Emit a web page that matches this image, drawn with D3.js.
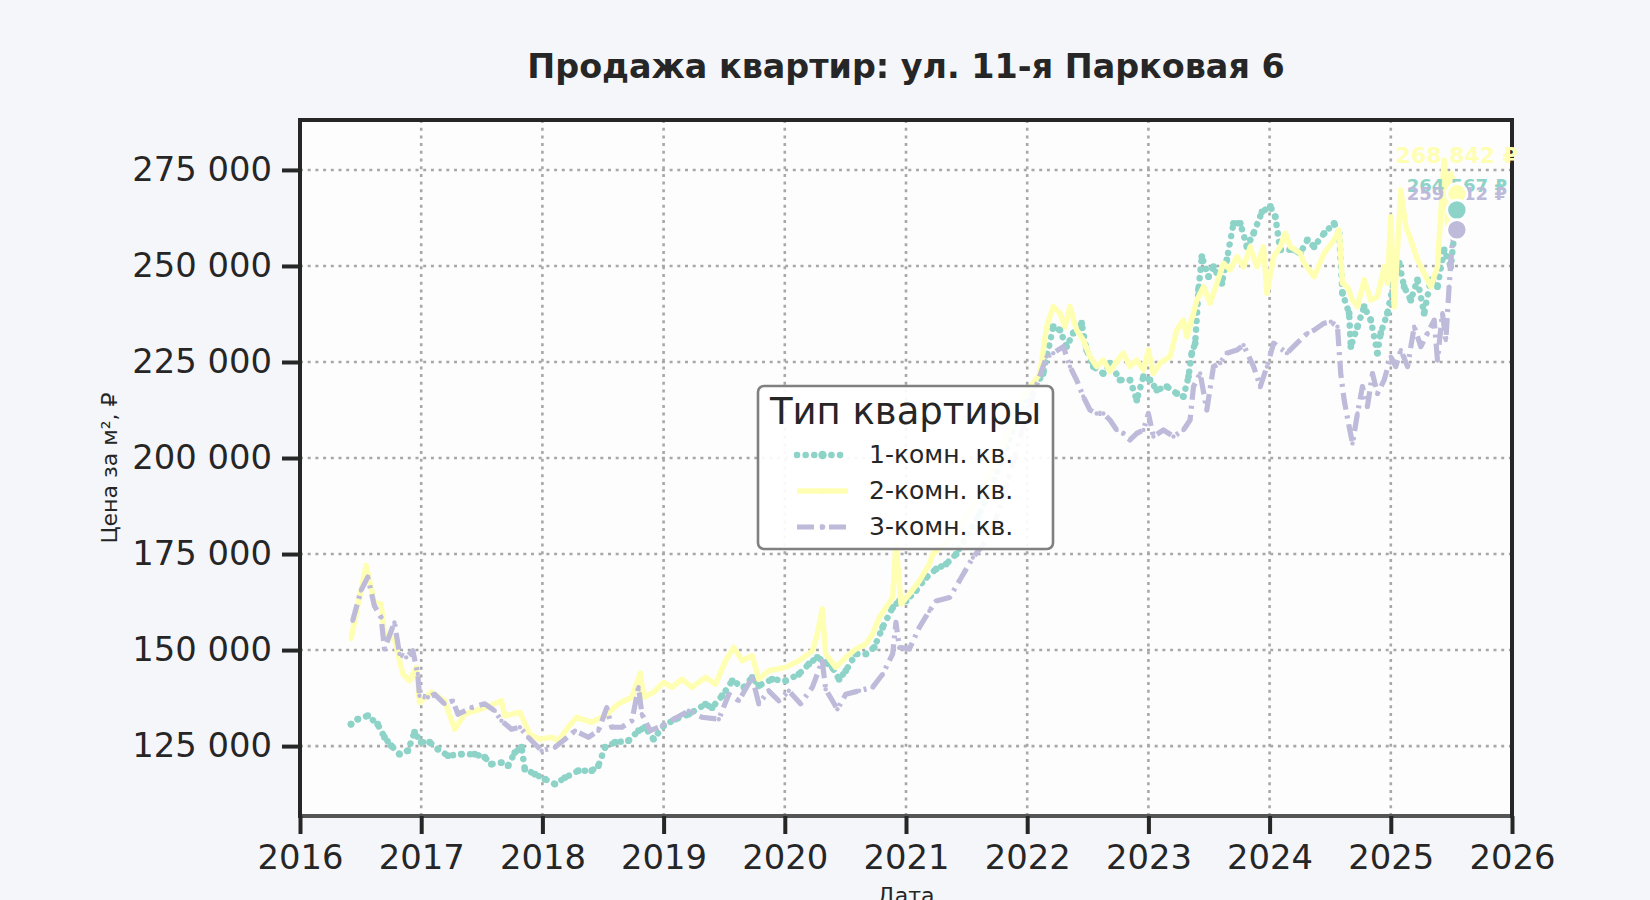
<!DOCTYPE html>
<html>
<head>
<meta charset="utf-8">
<script src="https://cdn.jsdelivr.net/npm/d3@7"></script>
<style>
  body { margin: 0; background: #f5f6fa; }
  svg { display: block; font-family: "DejaVu Sans", sans-serif; }
</style>
</head>
<body>
<svg id="chart" width="1650" height="900"></svg>
<script>
// подписи и оси
const chartTitle = "Продажа квартир: ул. 11-я Парковая 6";
const seriesNames = ["1-комн. кв.", "2-комн. кв.", "3-комн. кв."];
const lastPrice = [264567, 268842, 259412];
const xTicks = [2016, 2017, 2018, 2019, 2020, 2021, 2022, 2023, 2024, 2025, 2026];
const yTicks = [125000, 150000, 175000, 200000, 225000, 250000, 275000];

// даты в долях года, цены в тыс. ₽ за м²
// 1-комн.
const t1 = [
  2016.421,2016.476,2016.559,2016.641,2016.697,2016.752,2016.821,2016.890,2016.945,
  2017.0,2017.069,2017.138,2017.221,2017.331,2017.441,2017.524,2017.579,2017.662,2017.717,2017.772,2017.828,2017.855,2017.938,
  2018.021,2018.103,2018.186,2018.297,2018.407,2018.462,2018.517,2018.600,2018.710,2018.793,2018.848,2018.917,
  2019.0,2019.097,2019.207,2019.345,2019.400,2019.483,2019.566,2019.662,2019.731,2019.785,2019.895,
  2020.006,2020.116,2020.199,2020.268,2020.337,2020.392,2020.448,2020.503,2020.586,2020.669,2020.738,2020.807,2020.890,2020.945,
  2021.0,2021.083,2021.166,2021.249,2021.331,2021.414,2021.6,2021.8,2021.95,
  2022.132,2022.215,2022.270,2022.325,2022.380,2022.449,2022.490,2022.545,2022.628,2022.683,2022.766,2022.848,2022.904,2022.959,
  2023.014,2023.069,2023.152,2023.234,2023.289,2023.331,2023.358,2023.386,2023.413,2023.441,2023.496,2023.537,2023.606,2023.647,2023.702,2023.758,2023.813,2023.868,2023.937,
  2024.006,2024.047,2024.088,2024.198,2024.253,2024.312,2024.367,2024.450,2024.532,2024.574,2024.601,2024.656,2024.670,2024.725,2024.780,2024.835,2024.890,2024.917,2024.972,
  2025.028,2025.069,2025.110,2025.165,2025.220,2025.275,2025.330,2025.385,2025.440,2025.495,2025.545
];
const v1 = [
  130.7,132,132.9,130.7,127.3,125.1,122.9,123.8,128.6,
  126,126,124.2,122.5,122.9,122.9,122.1,120.3,120.7,119.9,123.3,124.7,119,117.7,
  116.4,115.1,116.8,118.6,118.6,119.9,124.7,126,126.4,129,129.9,126.8,
  130.3,132,133.3,135.9,135,138.1,142,140.3,142.9,140.7,142.4,
  142,143.7,146.4,148.1,146.8,145.5,142.4,144.6,149,149,150.7,155.9,161.1,162.8,
  162.8,165.5,168.9,171.1,172.4,175,185,200,213,
  222,234.2,233.3,229,232.5,235.1,228.1,223.8,222,224.7,220.3,220.3,215.1,221.2,
  220.3,217.7,218.6,216.8,216,221.2,227.3,229.9,243.8,252.4,247.2,249.8,245.5,251.6,261.1,261.1,255,258.5,264.1,
  265.5,262.8,254.2,254.2,253.3,256.8,255,258.5,261.1,258.5,242.9,237.7,229,234.2,239.4,235.9,227.3,232.5,237.7,
  246.4,250.7,244.6,241.1,246.4,237.7,246.4,244.6,254.2,249.8,264.567
];

// 2-комн.
const t2 = [
  2016.421,2016.545,2016.614,2016.669,2016.697,2016.779,2016.848,2016.903,2016.959,2016.986,
  2017.083,2017.193,2017.276,2017.359,2017.524,2017.662,2017.690,2017.814,2017.897,2017.979,
  2018.076,2018.131,2018.214,2018.283,2018.407,2018.517,2018.628,2018.738,2018.807,2018.834,2018.917,
  2019.0,2019.069,2019.152,2019.234,2019.345,2019.428,2019.510,2019.579,2019.648,2019.731,2019.785,2019.867,
  2020.006,2020.116,2020.227,2020.268,2020.309,2020.337,2020.420,2020.503,2020.586,2020.669,2020.724,2020.779,2020.834,2020.890,2020.917,2020.959,
  2021.028,2021.110,2021.193,2021.221,2021.4,2021.6,2021.8,2021.95,
  2022.105,2022.160,2022.215,2022.270,2022.311,2022.353,2022.408,2022.463,2022.518,2022.573,2022.628,2022.683,2022.738,2022.793,2022.848,2022.904,2022.959,
  2023.0,2023.041,2023.096,2023.179,2023.234,2023.289,2023.317,2023.372,2023.399,2023.455,2023.510,2023.565,2023.620,2023.675,2023.730,2023.785,2023.840,2023.895,2023.950,2023.978,
  2024.033,2024.088,2024.129,2024.171,2024.253,2024.285,2024.367,2024.450,2024.532,2024.574,2024.601,2024.642,2024.684,2024.725,2024.780,2024.835,2024.890,2024.945,2024.972,
  2025.0,2025.028,2025.083,2025.124,2025.165,2025.220,2025.275,2025.330,2025.385,2025.440,2025.468,2025.495,2025.545
];
const v2 = [
  152.9,172,162.4,162,154,152.9,143.8,142,145.5,136.4,
  139,136.8,129.4,133.3,135,136.8,132.9,133.8,128,126.8,
  127.3,126.4,130,132.5,131.2,132.9,136,137.7,144,137.7,139,
  141.6,140.3,142.4,140.3,142.9,141.1,147.2,150.7,147.2,148.5,142.4,144.6,
  145.5,147.2,149.8,154.2,160.7,149,145.5,148.1,150.3,151.6,154.2,158.5,161.1,163.7,178,162,
  164.6,168,172.4,175,180,190,203,215,
  222,234.2,239.4,237.7,234.2,239.4,233.3,230.7,226.4,223.8,225.5,222.5,225.1,227.3,223.8,225.5,222.9,
  228.1,222,224.7,226.4,233.3,235.9,231.6,237.7,241.1,244.6,240.3,245.5,250.7,249,252.4,249.8,255,249.8,255,242.9,
  252.4,255,258.5,255,253.3,250.7,247.2,253.3,256.8,259.4,245.5,244.6,241.1,239.4,246.4,241.1,242,249.8,245.5,
  262.8,239.4,269.8,260.2,256.8,251.6,248.1,244.6,249.8,277.6,261.1,274.1,268.842
];

// 3-комн.
const t3 = [
  2016.434,2016.503,2016.559,2016.614,2016.669,2016.697,2016.779,2016.821,2016.876,2016.931,2016.972,2016.986,
  2017.055,2017.110,2017.193,2017.262,2017.303,2017.414,2017.524,2017.607,2017.662,2017.745,2017.814,2017.883,2017.993,
  2018.103,2018.186,2018.269,2018.379,2018.462,2018.531,2018.572,2018.655,2018.738,2018.793,2018.821,2018.890,2018.986,
  2019.207,2019.317,2019.455,2019.538,2019.621,2019.731,2019.786,2019.867,2019.950,
  2020.033,2020.130,2020.227,2020.309,2020.337,2020.434,2020.503,2020.613,2020.724,2020.807,2020.890,2020.917,2020.945,
  2021.028,2021.110,2021.193,2021.249,2021.359,2021.442,2021.552,2021.7,2021.85,
  2022.0,2022.160,2022.215,2022.298,2022.353,2022.408,2022.463,2022.518,2022.573,2022.628,2022.683,2022.738,2022.793,2022.848,2022.904,2022.959,
  2023.0,2023.041,2023.124,2023.207,2023.289,2023.344,2023.372,2023.427,2023.482,2023.537,2023.592,2023.647,2023.730,2023.785,2023.868,2023.923,2023.978,
  2024.033,2024.143,2024.226,2024.312,2024.367,2024.450,2024.505,2024.560,2024.587,2024.615,2024.656,2024.684,2024.725,2024.766,2024.807,2024.849,2024.890,2024.945,
  2025.0,2025.041,2025.083,2025.138,2025.193,2025.248,2025.303,2025.358,2025.385,2025.426,2025.454,2025.481,2025.509,2025.545
];
const v3 = [
  157.6,165.5,169,161.5,158.5,150.3,157.2,149,148.1,149.8,143.8,138.1,
  137.7,138.5,136,136.8,133.3,135,136,134.2,131.6,129.4,129.9,127.3,123.8,
  124.7,126.8,129,127.3,129,135,129.9,129.9,131.6,140.3,133.3,129,130.3,
  134.2,132.5,132,138.5,136.8,142.9,136,139.4,136.8,
  139.4,136,140.3,147.2,139.8,134.6,138.5,139.4,140.3,143.7,149,157.2,150.7,
  150.3,155.9,160.2,162.8,163.7,168.1,174.1,180,195,
  212,226.4,227.3,229,223.8,220.3,216,212.5,211.6,211.6,209.9,207.3,206.4,204.7,206.4,207.3,
  211.6,205.6,207.3,205.6,207.3,209.9,218.6,222,212.5,223.8,224.7,227.3,228.1,229.4,223.8,218.6,223.8,
  229.9,227.3,229.9,232.5,233.3,235.1,235.5,234.2,222,215.1,208.2,203.8,211.6,218.6,213.4,222,216.8,220.3,
  226.4,223.8,228.1,223.8,234.2,229,232.5,235.9,225.5,237.7,230.7,244.6,256.8,259.412
];

// стиль серий (Set3)
const colors = ["#8dd3c7", "#ffffb3", "#bebada"];
const dashes = ["0.1,8.5", null, "17,6,3,6"];
const widths = [6.5, 5.5, 5.2];
const markR = [3.4, 2.2, 2.2];
const labelSize = [18, 22, 18];
const labelDy = [-18, -31, -30];

const W = 1650, H = 900;
const plotL = 300, plotR = 1512, plotT = 120, plotB = 816;

const svg = d3.select("#chart");
const x = d3.scaleLinear().domain([2016, 2026]).range([plotL, plotR]);
const y = d3.scaleLinear().domain([106800, 288000]).range([plotB, plotT]);
const fmtRub = v => d3.format(",")(v).replace(/,/g, " ");

const series = [[t1, v1], [t2, v2], [t3, v3]].map(([t, v], i) => ({
  name: seriesNames[i],
  pts: d3.zip(t, v).map(d => ({ t: d[0], v: d[1] * 1000 })),
  i: i
}));

svg.append("rect").attr("width", W).attr("height", H).attr("fill", "#f5f6fa");
svg.append("rect")
  .attr("x", plotL).attr("y", plotT)
  .attr("width", plotR - plotL).attr("height", plotB - plotT)
  .attr("fill", "#fdfdfe");

svg.append("defs").append("clipPath").attr("id", "plotClip")
  .append("rect")
  .attr("x", plotL).attr("y", plotT)
  .attr("width", plotR - plotL).attr("height", plotB - plotT);

// сетка
const grid = svg.append("g")
  .attr("stroke", "#a8a8a8").attr("stroke-width", 2.6).attr("stroke-dasharray", "3,4.7");
grid.selectAll(".gx").data(xTicks).enter().append("line")
  .attr("x1", d => x(d)).attr("x2", d => x(d))
  .attr("y1", plotT).attr("y2", plotB);
grid.selectAll(".gy").data(yTicks).enter().append("line")
  .attr("x1", plotL).attr("x2", plotR)
  .attr("y1", d => y(d)).attr("y2", d => y(d));

// линии
const line = d3.line().x(d => x(d.t)).y(d => y(d.v));
const plot = svg.append("g").attr("clip-path", "url(#plotClip)");
series.forEach(s => {
  plot.append("path")
    .datum(s.pts)
    .attr("fill", "none")
    .attr("stroke", colors[s.i])
    .attr("stroke-width", widths[s.i])
    .attr("stroke-linecap", s.i === 0 ? "round" : "butt")
    .attr("stroke-linejoin", "round")
    .attr("stroke-dasharray", dashes[s.i])
    .attr("d", line);
  plot.append("g").selectAll("circle")
    .data(s.pts)
    .enter().append("circle")
    .attr("cx", d => x(d.t)).attr("cy", d => y(d.v))
    .attr("r", markR[s.i])
    .attr("fill", colors[s.i]);
});

// рамка
svg.append("line").attr("x1", plotL).attr("x2", plotR).attr("y1", plotB).attr("y2", plotB)
  .attr("stroke", "#555").attr("stroke-width", 4);
svg.append("path")
  .attr("d", `M${plotL},${plotB + 2}V${plotT}H${plotR}V${plotB + 2}`)
  .attr("fill", "none").attr("stroke", "#262626").attr("stroke-width", 4);

// оси
const xAxis = svg.append("g")
  .attr("transform", `translate(0,${plotB})`)
  .call(d3.axisBottom(x).tickValues(xTicks).tickFormat(d3.format("d")).tickSize(18).tickPadding(11));
const yAxis = svg.append("g")
  .attr("transform", `translate(${plotL},0)`)
  .call(d3.axisLeft(y).tickValues(yTicks).tickFormat(fmtRub).tickSize(18).tickPadding(10));
[xAxis, yAxis].forEach(a => {
  a.select(".domain").remove();
  a.selectAll(".tick line").attr("stroke", "#262626").attr("stroke-width", 4);
  a.selectAll(".tick text")
    .attr("fill", "#262626")
    .style("font-family", "DejaVu Sans")
    .style("font-size", "33.8px");
});

svg.append("text")
  .attr("x", (plotL + plotR) / 2).attr("y", 903)
  .attr("text-anchor", "middle")
  .attr("fill", "#262626").style("font-size", "22px")
  .text("Дата");
svg.append("text")
  .attr("transform", `translate(117,${(plotT + plotB) / 2}) rotate(-90)`)
  .attr("text-anchor", "middle")
  .attr("fill", "#262626").style("font-size", "22px")
  .text("Цена за м², ₽");

svg.append("text")
  .attr("x", (plotL + plotR) / 2).attr("y", 78)
  .attr("text-anchor", "middle")
  .attr("fill", "#262626")
  .style("font-size", "33.4px").style("font-weight", "bold")
  .text(chartTitle);

// последние значения
const ends = series.map(s => ({ i: s.i, p: s.pts[s.pts.length - 1] }));
const labelOrder = [1, 0, 2];
labelOrder.forEach(i => {
  const e = ends[i];
  svg.append("text")
    .attr("x", x(e.p.t)).attr("y", y(e.p.v) + labelDy[i])
    .attr("text-anchor", "middle")
    .attr("fill", colors[i])
    .style("font-size", labelSize[i] + "px").style("font-weight", "bold")
    .text(fmtRub(lastPrice[i]) + " ₽");
});
labelOrder.forEach(i => {
  const e = ends[i];
  svg.append("circle")
    .attr("cx", x(e.p.t)).attr("cy", y(e.p.v))
    .attr("r", 10)
    .attr("fill", colors[i])
    .attr("stroke", "#fff").attr("stroke-width", 2.5);
});

// легенда
const lg = svg.append("g").attr("transform", "translate(758,386)");
lg.append("rect")
  .attr("width", 295).attr("height", 163).attr("rx", 6)
  .attr("fill", "#ffffff").attr("fill-opacity", 0.92)
  .attr("stroke", "#808080").attr("stroke-width", 2.6);
lg.append("text")
  .attr("x", 147.5).attr("y", 38)
  .attr("text-anchor", "middle")
  .attr("fill", "#262626").style("font-size", "37px")
  .text("Тип квартиры");
const item = lg.selectAll(".item").data(series).enter().append("g")
  .attr("transform", (d, i) => `translate(0,${69 + i * 36})`);
item.append("line")
  .attr("x1", 39).attr("x2", 90)
  .attr("stroke", d => colors[d.i])
  .attr("stroke-width", d => widths[d.i])
  .attr("stroke-linecap", d => d.i === 0 ? "round" : "butt")
  .attr("stroke-dasharray", d => dashes[d.i]);
item.append("circle")
  .attr("cx", 64.5).attr("r", d => d.i === 0 ? 4.2 : 2.8)
  .attr("fill", d => colors[d.i]);
item.append("text")
  .attr("x", 111).attr("y", 8)
  .attr("fill", "#262626").style("font-size", "25px")
  .text(d => d.name);
</script>
</body>
</html>
